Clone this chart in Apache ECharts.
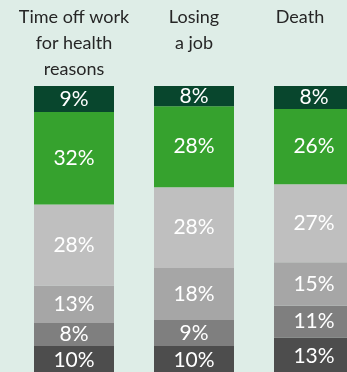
<!DOCTYPE html>
<html>
<head>
<meta charset="utf-8">
<script src="https://cdn.jsdelivr.net/npm/echarts@6/dist/echarts.min.js"></script>
<style>
  html, body { margin: 0; padding: 0; background: #deede7; }
  #chart { width: 347px; height: 372px; }
</style>
</head>
<body>
<div id="chart"></div>
<script>
const categories = ['Time off work\nfor health\nreasons', 'Losing\na job', 'Death'];

// bottom to top
const level6 = [10, 10, 13];
const level5 = [8, 9, 11];
const level4 = [13, 18, 15];
const level3 = [28, 28, 27];
const level2 = [32, 28, 26];
const level1 = [9, 8, 8];

const colors = ['#4d4d4d', '#7f7f7f', '#a6a6a6', '#bfbfbf', '#36a22e', '#08462d'];
const stacks = [level6, level5, level4, level3, level2, level1];

const chart = echarts.init(document.getElementById('chart'));

chart.setOption({
  backgroundColor: '#deede7',
  animation: false,
  grid: { left: 14, right: -27, top: 86, bottom: -3, outerBoundsMode: 'none' },
  xAxis: {
    type: 'category',
    position: 'top',
    data: categories,
    axisLine: { show: false },
    axisTick: { show: false },
    axisLabel: {
      interval: 0,
      hideOverlap: false,
      margin: 82,
      verticalAlign: 'top',
      fontFamily: 'Lato',
      fontSize: 18,
      lineHeight: 26,
      color: '#262626',
      formatter: v => v === 'Death' ? '{d|' + v + '}' : v,
      rich: { d: { padding: [0, 28, 0, 0], fontFamily: 'Lato', fontSize: 18, lineHeight: 26, color: '#262626' } }
    }
  },
  yAxis: { type: 'value', min: 0, max: 100, show: false },
  series: stacks.map((d, i) => ({
    type: 'bar',
    stack: 'all',
    data: d,
    barWidth: 80,
    itemStyle: { color: colors[i] },
    label: {
      show: true,
      position: 'inside',
      formatter: '{c}%',
      color: '#ffffff',
      fontFamily: 'Lato',
      fontSize: 21
    }
  }))
});
</script>
</body>
</html>
